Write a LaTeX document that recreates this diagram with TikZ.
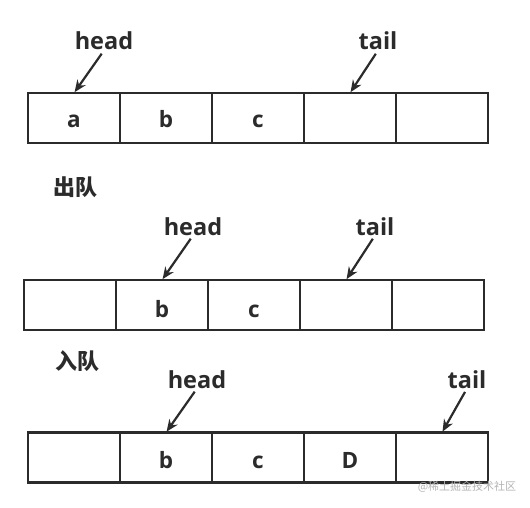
\documentclass[tikz,border=0pt]{standalone}
\usepackage{fontspec}
\setmainfont{Open Sans}
\newfontfamily\cjk{Noto Sans CJK SC}
\usetikzlibrary{arrows.meta}
\definecolor{ink}{HTML}{2B2B2B}
\definecolor{wm}{HTML}{B4B4B4}
\tikzset{
  cell/.style={draw=ink, line width=2.8pt, minimum width=92pt, minimum height=50pt, inner sep=0pt, outer sep=0pt},
  celltext/.style={anchor=base, inner sep=0pt, font=\fontsize{22.5}{22.5}\selectfont\bfseries, text=ink},
  ptr/.style={anchor=base, inner sep=0pt, font=\fontsize{23.5}{23.5}\selectfont\bfseries, text=ink},
  title/.style={inner sep=0pt, font=\cjk\fontsize{22}{22}\selectfont\bfseries, text=ink},
  arr/.style={draw=ink, line width=2.2pt, -{Stealth[length=12pt,width=10pt]}, shorten <=4pt, shorten >=1pt},
}
\begin{document}
\begin{tikzpicture}[x=1pt,y=-1pt]
\path[use as bounding box, fill=white] (0,0) rectangle (530,508);
% row 1
\foreach \i/\x in {1/74,2/166,3/258,4/350,5/442}{
  \node[cell] (a\i) at (\x,118) {};
}
\node[celltext] (ta1) at (74,128) {a};
\node[celltext] (ta2) at (166,128) {b};
\node[celltext] (ta3) at (258,128) {c};
\node[ptr] (h1) at (104,50) {head};
\node[ptr] (t1) at (378,50) {tail};
\draw[arr] (h1.south) -- (a1.north);
\draw[arr] (t1.south) -- (a4.north);
% title 1
\node[title] (q1) at (75,187.5) {出队};
% row 2
\foreach \i/\x in {1/70,2/162,3/254,4/346,5/438}{
  \node[cell] (b\i) at (\x,305) {};
}
\node[celltext] (tb2) at (162,317) {b};
\node[celltext] (tb3) at (254,317) {c};
\node[ptr] (h2) at (193,235) {head};
\node[ptr] (t2) at (375,235) {tail};
\draw[arr] (h2.south) -- (b2.north);
\draw[arr] (t2.south) -- (b4.north);
% title 2
\node[title] (q2) at (77.5,361) {入队};
% row 3
\foreach \i/\x in {1/74,2/166,3/258,4/350,5/442}{
  \node[cell] (c\i) at (\x,457.5) {};
}
\node[celltext] (tc2) at (166,468) {b};
\node[celltext] (tc3) at (258,468) {c};
\node[celltext] (tc4) at (350,468) {D};
\node[ptr] (h3) at (197,388) {head};
\node[ptr] (t3) at (467,388) {tail};
\draw[arr] (h3.south) -- (c2.north);
\draw[arr] (t3.south) -- (c5.north);
% watermark
\node[inner sep=0pt, text=wm, font=\cjk\fontsize{11}{11}\selectfont] (wmk) at (467,487) {@稀土掘金技术社区};
\end{tikzpicture}
\end{document}
